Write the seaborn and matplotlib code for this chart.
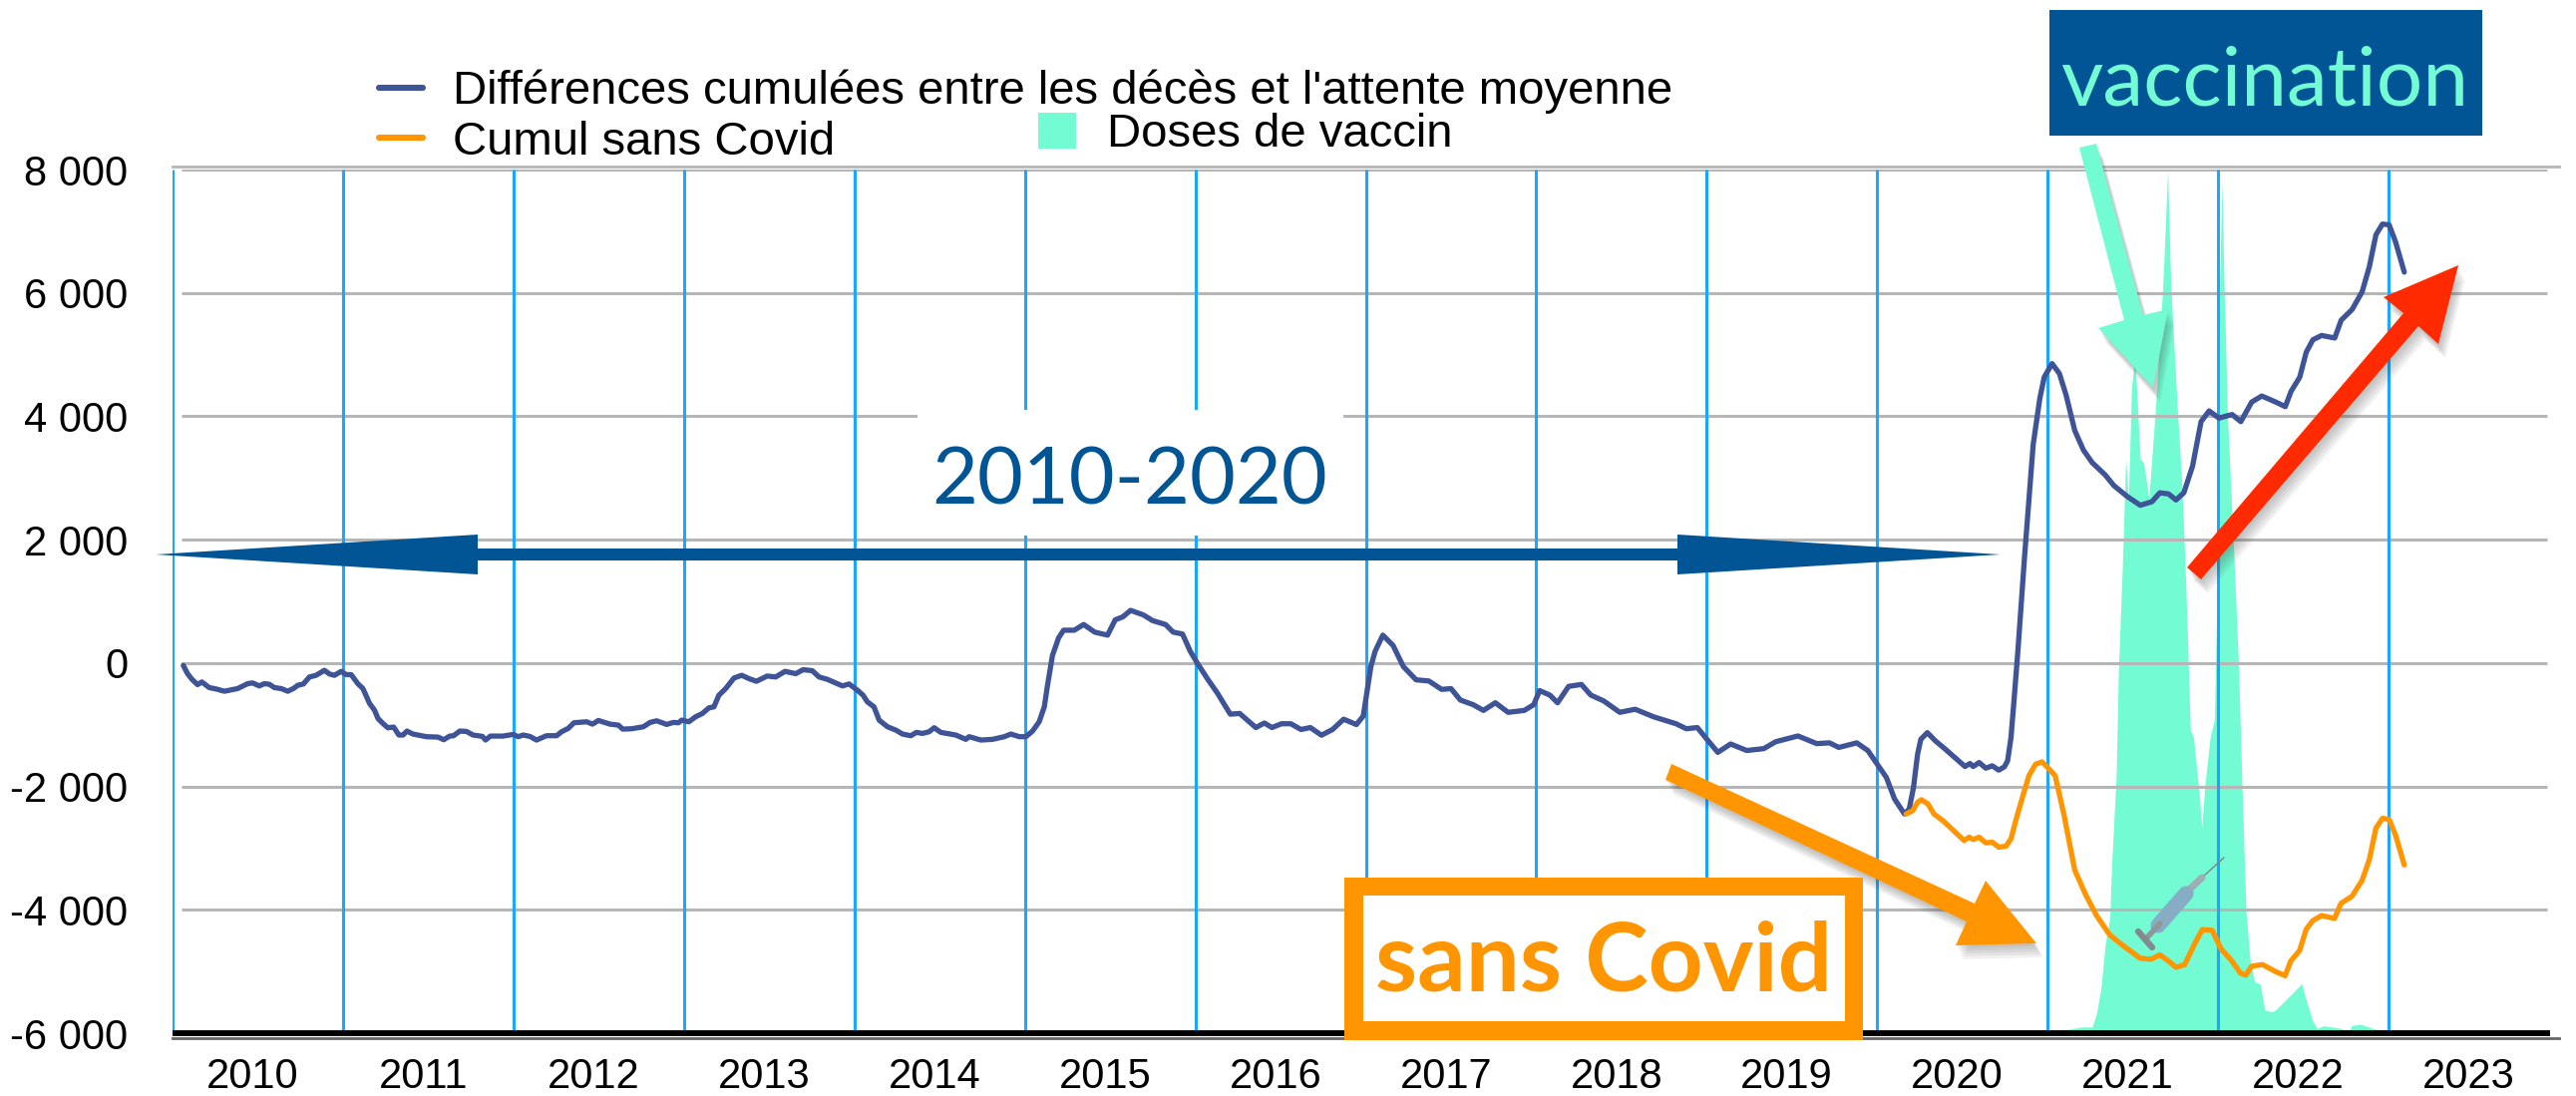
import matplotlib
matplotlib.use("Agg")
import matplotlib.pyplot as plt
import matplotlib.patheffects as pe
from matplotlib.lines import Line2D
from matplotlib.patches import Polygon, Rectangle
import seaborn as sns

WIDTH, HEIGHT = 2583, 1099

# x positions are in "slots" of the chart: a vertical line starts each labelled year
years = [2010, 2011, 2012, 2013, 2014, 2015, 2016, 2017, 2018, 2019, 2020, 2021, 2022, 2023]
y_ticks = [8000, 6000, 4000, 2000, 0, -2000, -4000, -6000]
y_labels = ["8 000", "6 000", "4 000", "2 000", "0", "-2 000", "-4 000", "-6 000"]

cumul_x = [
    2010.063, 2010.088, 2010.114, 2010.147, 2010.172, 2010.215, 2010.255, 2010.304, 2010.382, 2010.441,
    2010.470, 2010.509, 2010.539, 2010.568, 2010.597, 2010.637, 2010.676, 2010.709, 2010.735, 2010.768,
    2010.803, 2010.842, 2010.891, 2010.921, 2010.950, 2010.989, 2011.019, 2011.048, 2011.087, 2011.117,
    2011.156, 2011.185, 2011.205, 2011.234, 2011.263, 2011.297, 2011.328, 2011.352, 2011.375, 2011.410,
    2011.489, 2011.557, 2011.591, 2011.626, 2011.649, 2011.685, 2011.724, 2011.763, 2011.818, 2011.836,
    2011.865, 2011.939, 2011.998, 2012.027, 2012.057, 2012.096, 2012.135, 2012.194, 2012.253, 2012.282,
    2012.321, 2012.355, 2012.429, 2012.464, 2012.498, 2012.566, 2012.615, 2012.641, 2012.694, 2012.762,
    2012.801, 2012.840, 2012.899, 2012.938, 2012.968, 2012.987, 2013.029, 2013.068, 2013.108, 2013.147,
    2013.176, 2013.205, 2013.245, 2013.294, 2013.339, 2013.382, 2013.425, 2013.489, 2013.538, 2013.593,
    2013.656, 2013.699, 2013.753, 2013.793, 2013.841, 2013.930, 2013.969, 2014.018, 2014.051, 2014.076,
    2014.115, 2014.145, 2014.194, 2014.243, 2014.282, 2014.331, 2014.364, 2014.399, 2014.438, 2014.468,
    2014.507, 2014.595, 2014.654, 2014.673, 2014.742, 2014.810, 2014.879, 2014.918, 2014.967, 2015.006,
    2015.045, 2015.084, 2015.114, 2015.133, 2015.162, 2015.198, 2015.227, 2015.290, 2015.345, 2015.410,
    2015.485, 2015.530, 2015.575, 2015.620, 2015.695, 2015.750, 2015.825, 2015.870, 2015.925, 2015.970,
    2016.010, 2016.075, 2016.130, 2016.205, 2016.260, 2016.355, 2016.405, 2016.450, 2016.505, 2016.560,
    2016.620, 2016.675, 2016.740, 2016.805, 2016.870, 2016.945, 2016.985, 2017.030, 2017.055, 2017.100,
    2017.160, 2017.220, 2017.295, 2017.370, 2017.445, 2017.500, 2017.555, 2017.630, 2017.690, 2017.760,
    2017.835, 2017.930, 2017.985, 2018.020, 2018.080, 2018.125, 2018.190, 2018.265, 2018.320, 2018.395,
    2018.490, 2018.580, 2018.690, 2018.820, 2018.880, 2018.945, 2019.000, 2019.065, 2019.140, 2019.235,
    2019.335, 2019.405, 2019.535, 2019.645, 2019.720, 2019.775, 2019.880, 2019.945, 2020.000, 2020.054,
    2020.102, 2020.160, 2020.188, 2020.213, 2020.237, 2020.256, 2020.294, 2020.342, 2020.400, 2020.515,
    2020.544, 2020.563, 2020.598, 2020.637, 2020.675, 2020.713, 2020.746, 2020.765, 2020.785, 2020.804,
    2020.826, 2020.864, 2020.915, 2020.954, 2020.980, 2021.026, 2021.069, 2021.108, 2021.159, 2021.210,
    2021.261, 2021.338, 2021.389, 2021.466, 2021.543, 2021.612, 2021.658, 2021.709, 2021.753, 2021.799,
    2021.850, 2021.900, 2021.947, 2022.005, 2022.082, 2022.133, 2022.197, 2022.256, 2022.338, 2022.394,
    2022.428, 2022.479, 2022.517, 2022.556, 2022.607, 2022.684, 2022.722, 2022.786, 2022.845, 2022.887,
    2022.926, 2022.964, 2023.003, 2023.041, 2023.092,
]
cumul_y = [
    -38, -172, -264, -350, -307, -398, -420, -457, -414, -334,
    -323, -371, -334, -344, -398, -414, -457, -414, -360, -339,
    -226, -199, -118, -178, -199, -135, -188, -188, -334, -414,
    -656, -764, -898, -979, -1049, -1038, -1167, -1167, -1103, -1151,
    -1194, -1200, -1243, -1184, -1178, -1103, -1108, -1167, -1189, -1248,
    -1184, -1184, -1157, -1194, -1167, -1189, -1248, -1178, -1178, -1114,
    -1060, -968, -952, -990, -931, -990, -1006, -1071, -1065, -1033,
    -963, -936, -995, -963, -968, -925, -952, -872, -818, -726,
    -710, -522, -414, -242, -199, -253, -296, -210, -226, -135,
    -172, -108, -124, -226, -264, -371, -339, -441, -522, -629,
    -710, -925, -1033, -1087, -1151, -1178, -1124, -1141, -1114, -1049,
    -1124, -1167, -1237, -1194, -1248, -1237, -1194, -1151, -1194, -1194,
    -1103, -952, -710, -360, 124, 408, 532, 532, 625, 501,
    452, 700, 749, 854, 780, 687, 625, 501, 470, 192,
    6, -272, -489, -829, -817, -1046, -972, -1046, -984, -984,
    -1077, -1046, -1170, -1077, -910, -997, -860, -56, 192, 452,
    285, -56, -272, -291, -427, -415, -600, -675, -768, -644,
    -799, -768, -675, -446, -520, -644, -378, -347, -520, -613,
    -799, -749, -873, -984, -1065, -1046, -1232, -1448, -1312, -1418,
    -1387, -1275, -1182, -1306, -1294, -1368, -1294, -1418, -1640, -1855,
    -2204, -2447, -2366, -2016, -1478, -1236, -1128, -1263, -1397, -1677,
    -1629, -1677, -1613, -1704, -1666, -1736, -1683, -1586, -1209, -560,
    215, 1704, 3538, 4288, 4635, 4854, 4692, 4346, 3769, 3452,
    3250, 3048, 2875, 2702, 2558, 2615, 2760, 2742, 2644, 2760,
    3192, 3913, 4087, 3971, 4029, 3913, 4231, 4329, 4231, 4156,
    4404, 4635, 5039, 5240, 5310, 5269, 5558, 5731, 6019, 6423,
    6943, 7116, 7104, 6827, 6337,
]

sans_covid_x = [
    2020.169, 2020.208, 2020.237, 2020.260, 2020.298, 2020.333, 2020.390, 2020.510, 2020.540, 2020.563,
    2020.598, 2020.637, 2020.675, 2020.713, 2020.756, 2020.785, 2020.813, 2020.852, 2020.890, 2020.929,
    2020.967, 2021.000, 2021.044, 2021.095, 2021.159, 2021.223, 2021.287, 2021.364, 2021.440, 2021.543,
    2021.607, 2021.658, 2021.709, 2021.753, 2021.804, 2021.863, 2021.907, 2021.965, 2022.017, 2022.081,
    2022.132, 2022.163, 2022.196, 2022.260, 2022.337, 2022.393, 2022.426, 2022.478, 2022.516, 2022.554,
    2022.606, 2022.683, 2022.721, 2022.785, 2022.844, 2022.887, 2022.926, 2022.964, 2023.003, 2023.041,
    2023.092,
]
sans_covid_y = [
    -2447, -2393, -2258, -2215, -2285, -2447, -2565, -2877, -2823, -2861,
    -2823, -2915, -2904, -2985, -2968, -2850, -2554, -2178, -1828, -1640,
    -1602, -1693, -1826, -2449, -3357, -3754, -4094, -4406, -4576, -4785,
    -4802, -4729, -4831, -4933, -4888, -4547, -4321, -4332, -4632, -4831,
    -5029, -5058, -4916, -4888, -5001, -5069, -4831, -4661, -4321, -4179,
    -4094, -4139, -3895, -3782, -3527, -3187, -2676, -2517, -2534, -2790,
    -3272,
]

# doses, read in axis units from the -6000 floor
doses_x = [
    2021.056, 2021.095, 2021.197, 2021.261, 2021.287, 2021.312, 2021.338, 2021.364, 2021.376, 2021.402,
    2021.415, 2021.440, 2021.458, 2021.474, 2021.492, 2021.512, 2021.543, 2021.563, 2021.594, 2021.632,
    2021.676, 2021.704, 2021.722, 2021.761, 2021.786, 2021.804, 2021.812, 2021.825, 2021.837, 2021.855,
    2021.889, 2021.904, 2021.922, 2021.953, 2021.978, 2021.991, 2021.999, 2022.004, 2022.009, 2022.022,
    2022.035, 2022.055, 2022.093, 2022.119, 2022.140, 2022.163, 2022.188, 2022.214, 2022.247, 2022.273,
    2022.311, 2022.337, 2022.490, 2022.516, 2022.554, 2022.580, 2022.618, 2022.720, 2022.759, 2022.785,
    2022.836, 2022.900, 2022.990,
]
doses_y = [
    -6000, -5950, -5900, -5900, -5680, -5285, -4550, -4150, -3240, -1826,
    -125, 1704, 3308, 2673, 4462, 4980, 3308, 3250, 2673, 4115,
    6135, 7981, 6135, 4115, 2961, 1750, 1123, 0, -1089, -1202,
    -2109, -2676, -1996, -1202, -919, 726, 1860, 4000, 6135, 7808,
    6135, 4000, 1704, 0, -1996, -3997, -4831, -5171, -5199, -5625,
    -5653, -5625, -5199, -5455, -5795, -5920, -5880, -5920, -6000, -5875,
    -5858, -5915, -6000,
]

NAVY = "#015595"
TEAL = "#73fbd3"
ORANGE = "#ff9500"
RED = "#ff2a00"
BLUE = "#3f5497"
VLINE = "#1aa7ff"
GRID = "#b6b6b6"

sns.set_theme(style="white")
plt.rcParams["font.family"] = ["Liberation Sans", "DejaVu Sans"]

fig = plt.figure(figsize=(WIDTH / 100, HEIGHT / 100), dpi=100)
ax = fig.add_axes([173 / WIDTH, 1 - 1036 / HEIGHT, (2566 - 173) / WIDTH, (1036 - 170) / HEIGHT])


def fx(x):
    return x / WIDTH


def fy(y):
    return 1 - y / HEIGHT


def fig_poly(points, color, shadow=False, zorder=1):
    patch = Polygon([(fx(x), fy(y)) for x, y in points], closed=True, facecolor=color,
                    edgecolor="none", transform=fig.transFigure, zorder=zorder)
    if shadow:
        # stacked faint copies stand in for the soft slide shadow
        layers = [pe.SimplePatchShadow(offset=(s, -2 * s), shadow_rgbFace="#444444", alpha=0.07)
                  for s in (5, 4, 3, 2, 1)]
        patch.set_path_effects(layers + [pe.Normal()])
    fig.add_artist(patch)


def fig_rect(x0, y0, x1, y1, color, zorder=1):
    fig.add_artist(Rectangle((fx(x0), fy(y1)), (x1 - x0) / WIDTH, (y1 - y0) / HEIGHT, facecolor=color,
                             edgecolor="none", transform=fig.transFigure, zorder=zorder))


ax.fill_between(doses_x, doses_y, -6000, color=TEAL, linewidth=0, zorder=1)
ax.hlines(y_ticks[:-1], 2010.05, 2023.93, color=GRID, linewidth=2.2, zorder=2)
ax.vlines(years, -6000, 8000, color=VLINE, linewidth=2.2, zorder=2.5)
sns.lineplot(x=cumul_x, y=cumul_y, color=BLUE, linewidth=3.8, sort=False, errorbar=None, ax=ax, zorder=3,
             solid_joinstyle="round")
sns.lineplot(x=sans_covid_x, y=sans_covid_y, color=ORANGE, linewidth=3.8, sort=False, errorbar=None, ax=ax, zorder=3,
             solid_joinstyle="round")

ax.set_xlim(2010, 2024)
ax.set_ylim(-6000, 8000)
ax.set_xticks([y + 0.47 for y in years])
ax.set_xticklabels([str(y) for y in years])
ax.set_yticks(y_ticks)
ax.set_yticklabels(y_labels)
ax.tick_params(axis="x", length=0, pad=14, labelsize=30, labelcolor="black")
ax.tick_params(axis="y", length=0, pad=32, labelsize=30, labelcolor="black")

for side in ["left", "right"]:
    ax.spines[side].set_visible(False)
ax.spines["top"].set_color(GRID)
ax.spines["top"].set_linewidth(2)
ax.spines["top"].set_position(("outward", 2.5))
ax.spines["bottom"].set_color("#666666")
ax.spines["bottom"].set_linewidth(2)
ax.spines["bottom"].set_position(("outward", 3.5))
ax.hlines(-6000, 2010, 2023.95, color="black", linewidth=4.2, zorder=4, clip_on=False)

# legend: two lines on the left, the vaccine swatch on its own further right
line_handles = [Line2D([], [], color=BLUE, linewidth=4.4), Line2D([], [], color=ORANGE, linewidth=4.4)]
leg1 = ax.legend(line_handles, ["Différences cumulées entre les décès et l'attente moyenne", "Cumul sans Covid"],
                 loc="upper left", bbox_to_anchor=(fx(380), fy(70)), bbox_transform=fig.transFigure,
                 frameon=False, fontsize=34, handlelength=0.94, handletextpad=0.62, borderpad=0,
                 borderaxespad=0, labelspacing=0.13, labelcolor="black")
ax.add_artist(leg1)
area_handle = Rectangle((0, 0), 1, 1, facecolor=TEAL, edgecolor="none")
ax.legend([area_handle], ["Doses de vaccin"], loc="upper left", bbox_to_anchor=(fx(1041), fy(113)),
          bbox_transform=fig.transFigure, frameon=False, fontsize=34, handlelength=0.8, handleheight=0.8,
          handletextpad=0.66, borderpad=0, borderaxespad=0, labelcolor="black")

# slide annotations drawn over the chart, in picture pixels
fig_rect(920, 411, 1347, 537, "white")
fig.text(fx(1133), fy(505), "2010-2020", color=NAVY, fontsize=57, family="Lato", ha="center", va="baseline", zorder=5)

fig_poly([(156, 556), (479, 536), (479, 550), (1682, 550), (1682, 536), (2006, 556), (1682, 576), (1682, 562),
          (479, 562), (479, 576)], NAVY)

fig_rect(2055, 10, 2489, 136, NAVY)
fig.text(fx(2271), fy(105), "vaccination", color=TEAL, fontsize=59, family="Lato", ha="center", va="baseline", zorder=5)

fig_poly([(2085, 148), (2102, 144), (2149, 316), (2174, 310), (2159, 389), (2104, 329), (2130, 321)], TEAL, shadow=True)
fig_poly([(2193, 569), (2207, 581), (2425, 327), (2445, 345), (2465, 266), (2390, 298), (2410, 314)], RED, shadow=True)
fig_poly([(1676, 766), (1670, 782), (1972, 924), (1961, 948), (2042, 946), (1991, 883), (1980, 906)], ORANGE, shadow=True)

fig_rect(1348, 880, 1868, 1043, ORANGE)
fig_rect(1367, 898, 1850, 1024, "white")
fig.text(fx(1608), fy(993), "sans Covid", color=ORANGE, fontsize=69, family="Lato", weight="bold",
         ha="center", va="baseline", zorder=5)

# small syringe (emoji in the original)
syringe = [
    ([2208, 2230], [880, 860], "#7d8388", 1.0),
    ([2190, 2208], [897, 880], "#9fadb5", 5.0),
    ([2164, 2192], [928, 896], "#87adc4", 11.0),
    ([2152, 2166], [941, 926], "#8f979d", 4.0),
    ([2144, 2158], [934, 950], "#83898e", 4.5),
]
for xs, ys, col, lw in syringe:
    fig.add_artist(Line2D([fx(x) for x in xs], [fy(y) for y in ys], color=col, linewidth=lw,
                          transform=fig.transFigure, zorder=2))

fig.savefig("out.png", dpi=100, facecolor="white")
